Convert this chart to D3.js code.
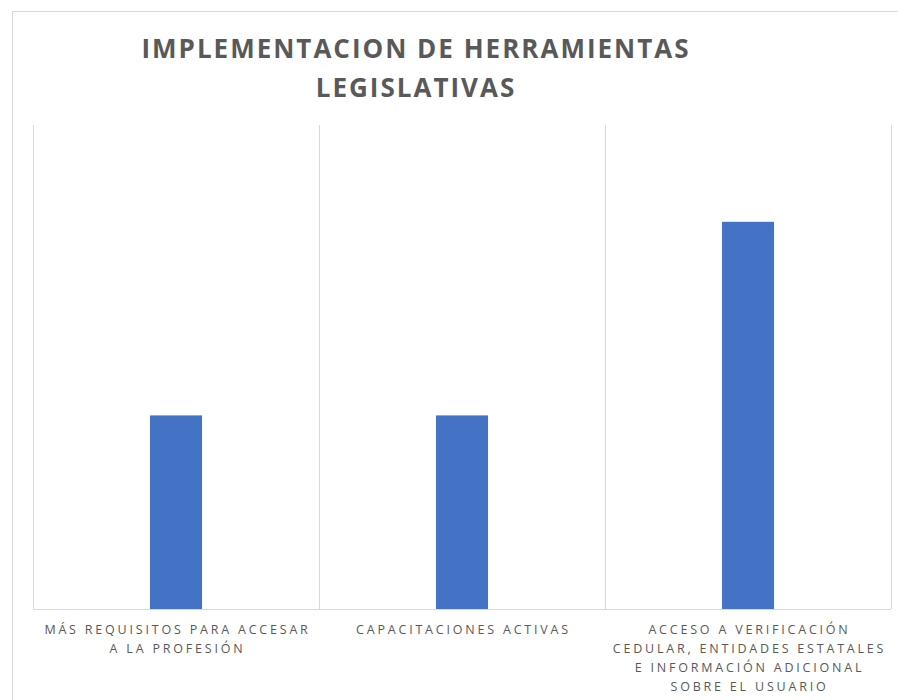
<!DOCTYPE html>
<html>
<head>
<meta charset="utf-8">
<script src="https://cdn.jsdelivr.net/npm/d3@7"></script>
<style>
  body { margin: 0; background: #fff; }
  text { font-family: "Open Sans", "Noto Sans", sans-serif; fill: #595959; }
</style>
</head>
<body>
<div id="chart"></div>
<script>
var titleLines = ["IMPLEMENTACION DE HERRAMIENTAS", "LEGISLATIVAS"];
var categories = [
  "MÁS REQUISITOS PARA ACCESAR A LA PROFESIÓN",
  "CAPACITACIONES ACTIVAS",
  "ACCESO A VERIFICACIÓN CEDULAR, ENTIDADES ESTATALES E INFORMACIÓN ADICIONAL SOBRE EL USUARIO"
];
var labelLines = [
  ["MÁS REQUISITOS PARA ACCESAR", "A LA PROFESIÓN"],
  ["CAPACITACIONES ACTIVAS"],
  ["ACCESO A VERIFICACIÓN", "CEDULAR, ENTIDADES ESTATALES", "E INFORMACIÓN ADICIONAL", "SOBRE EL USUARIO"]
];
var values = [1, 1, 2];
var yMax = 2.5;

var w = 898;
var h = 700;
var margin = { top: 125, right: 7, bottom: 91, left: 33 };

var svg = d3
  .select("#chart")
  .append("svg")
  .attr("width", w)
  .attr("height", h);

// outer chart border (cropped at right/bottom)
svg.append("rect")
  .attr("x", 12.5)
  .attr("y", 11.5)
  .attr("width", w)
  .attr("height", h)
  .attr("fill", "none")
  .attr("stroke", "#d9d9d9");

var x = d3
  .scaleBand()
  .domain(categories)
  .range([margin.left, w - margin.right])
  .paddingInner(0)
  .paddingOuter(0);

var y = d3
  .scaleLinear()
  .domain([0, yMax])
  .range([h - margin.bottom, margin.top]);

// vertical gridlines at category boundaries
var bounds = categories.map((c) => x(c)).concat([x(categories[categories.length - 1]) + x.bandwidth()]);
svg.append("g")
  .selectAll("line")
  .data(bounds)
  .enter()
  .append("line")
  .attr("x1", (d) => Math.round(d) + 0.5)
  .attr("x2", (d) => Math.round(d) + 0.5)
  .attr("y1", y(yMax))
  .attr("y2", y(0))
  .attr("stroke", "#d9d9d9");

// baseline
svg.append("line")
  .attr("x1", x.range()[0])
  .attr("x2", x.range()[1])
  .attr("y1", Math.round(y(0)) + 0.5)
  .attr("y2", Math.round(y(0)) + 0.5)
  .attr("stroke", "#d9d9d9");

var barW = x.bandwidth() * 0.182;
svg.append("g")
  .selectAll("rect")
  .data(values)
  .enter()
  .append("rect")
  .attr("x", (d, i) => x(categories[i]) + x.bandwidth() / 2 - barW / 2)
  .attr("y", (d) => y(d))
  .attr("width", barW)
  .attr("height", (d) => y(0) - y(d))
  .attr("fill", "#4472c4");

// category labels
var labels = svg.append("g")
  .selectAll("text")
  .data(labelLines)
  .enter()
  .append("text")
  .attr("text-anchor", "middle")
  .style("font-size", "12.5px")
  .style("letter-spacing", "2.8px");
labels.each(function (lines, i) {
  var t = d3.select(this);
  lines.forEach((ln, j) => {
    t.append("tspan")
      .attr("x", x(categories[i]) + x.bandwidth() / 2 + 1.5)
      .attr("y", y(0) + 25 + j * 19)
      .text(ln);
  });
});

// title
svg.append("g")
  .selectAll("text")
  .data(titleLines)
  .enter()
  .append("text")
  .attr("x", 416)
  .attr("y", (d, i) => 58 + i * 39)
  .attr("text-anchor", "middle")
  .style("font-size", "26px")
  .style("font-weight", "bold")
  .style("letter-spacing", "2px")
  .text((d) => d);
</script>
</body>
</html>
